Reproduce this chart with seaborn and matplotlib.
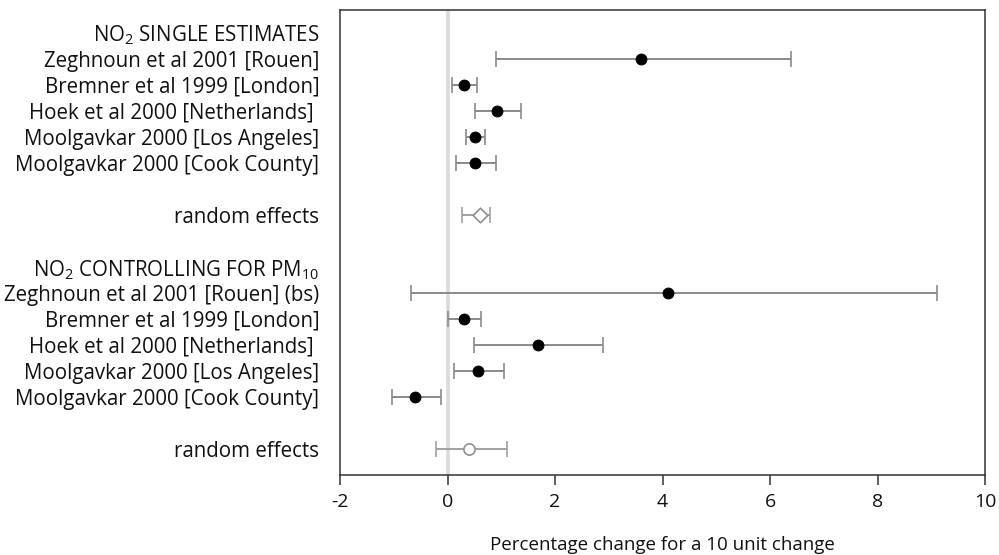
import matplotlib
matplotlib.use("Agg")
import matplotlib.pyplot as plt
import seaborn as sns
import pandas as pd
import numpy as np

sns.set_theme(style="white")
FONT = 'Open Sans'
plt.rcParams['font.family'] = [FONT, 'DejaVu Sans']
plt.rcParams['mathtext.fontset'] = 'custom'
plt.rcParams['mathtext.rm'] = FONT
plt.rcParams['mathtext.it'] = FONT + ':italic'

row_labels = [
    "NO$_2$ SINGLE ESTIMATES",
    "Zeghnoun et al 2001 [Rouen]",
    "Bremner et al 1999 [London]",
    "Hoek et al 2000 [Netherlands] ",
    "Moolgavkar 2000 [Los Angeles]",
    "Moolgavkar 2000 [Cook County]",
    "",
    "random effects",
    "",
    "NO$_2$ CONTROLLING FOR PM$_{10}$",
    "Zeghnoun et al 2001 [Rouen] (bs)",
    "Bremner et al 1999 [London]",
    "Hoek et al 2000 [Netherlands] ",
    "Moolgavkar 2000 [Los Angeles]",
    "Moolgavkar 2000 [Cook County]",
    "",
    "random effects",
]

# study rows (index into row_labels)
study_rows = [1, 2, 3, 4, 5, 10, 11, 12, 13, 14]
study_est = [3.60, 0.31, 0.93, 0.51, 0.51, 4.10, 0.30, 1.69, 0.56, -0.60]
study_lo = [0.90, 0.09, 0.51, 0.34, 0.16, -0.68, 0.00, 0.49, 0.12, -1.04]
study_hi = [6.39, 0.55, 1.37, 0.70, 0.91, 9.10, 0.63, 2.89, 1.05, -0.13]

# pooled rows
pooled_rows = [7, 16]
pooled_est = [0.61, 0.40]
pooled_lo = [0.27, -0.21]
pooled_hi = [0.79, 1.11]
pooled_marker = ["D", "o"]

studies = pd.DataFrame({"row": study_rows, "est": study_est, "lo": study_lo, "hi": study_hi})
pooled = pd.DataFrame({"row": pooled_rows, "est": pooled_est, "lo": pooled_lo, "hi": pooled_hi,
                       "marker": pooled_marker})

fig = plt.figure(figsize=(9.99, 5.55), dpi=100)
ax = fig.add_axes([340/999, 1-475/555, (985-340)/999, (475-10)/555])

ax.axvline(0, color="#dadada", lw=2.6, zorder=0)

err_col = "#8a8a8a"
ax.errorbar(studies["est"], studies["row"],
            xerr=[studies["est"] - studies["lo"], studies["hi"] - studies["est"]],
            fmt="none", ecolor=err_col, elinewidth=1.4, capsize=5.5, capthick=1.2, zorder=1)
ax.errorbar(pooled["est"], pooled["row"],
            xerr=[pooled["est"] - pooled["lo"], pooled["hi"] - pooled["est"]],
            fmt="none", ecolor="#a0a0a0", elinewidth=1.4, capsize=5.5, capthick=1.2, zorder=1)

sns.scatterplot(data=studies, x="est", y="row", ax=ax, color="black", s=62,
                marker="o", edgecolor="black", zorder=3, legend=False)
for m in pooled_marker:
    sub = pooled[pooled["marker"] == m]
    sns.scatterplot(data=sub, x="est", y="row", ax=ax, color="white", s=55 if m == "D" else 65,
                    marker=m, edgecolor="#909090", linewidth=1.2, zorder=3, legend=False)

ax.set_xlim(-2, 10)
ax.set_ylim(17.0, -0.88)
ax.set_xticks([-2, 0, 2, 4, 6, 8, 10])
ax.set_xticklabels(["-2", "0", "2", "4", "6", "8", "10"])
ax.set_yticks(range(len(row_labels)))
ax.set_yticklabels(row_labels)
ax.tick_params(axis="y", length=0, pad=15, labelsize=14.8, labelcolor="#111111")
ax.tick_params(axis="x", length=7, width=1.1, direction="out", color="#333333",
               labelsize=14, labelcolor="#111111", pad=6, bottom=True)
ax.set_xlabel("Percentage change for a 10 unit change", fontsize=13.5, color="#111111", labelpad=18)
ax.set_ylabel("")
for sp in ax.spines.values():
    sp.set_color("#333333")
    sp.set_linewidth(1.1)
    sp.set_visible(True)
ax.grid(False)

fig.savefig("out.png", dpi=100)
